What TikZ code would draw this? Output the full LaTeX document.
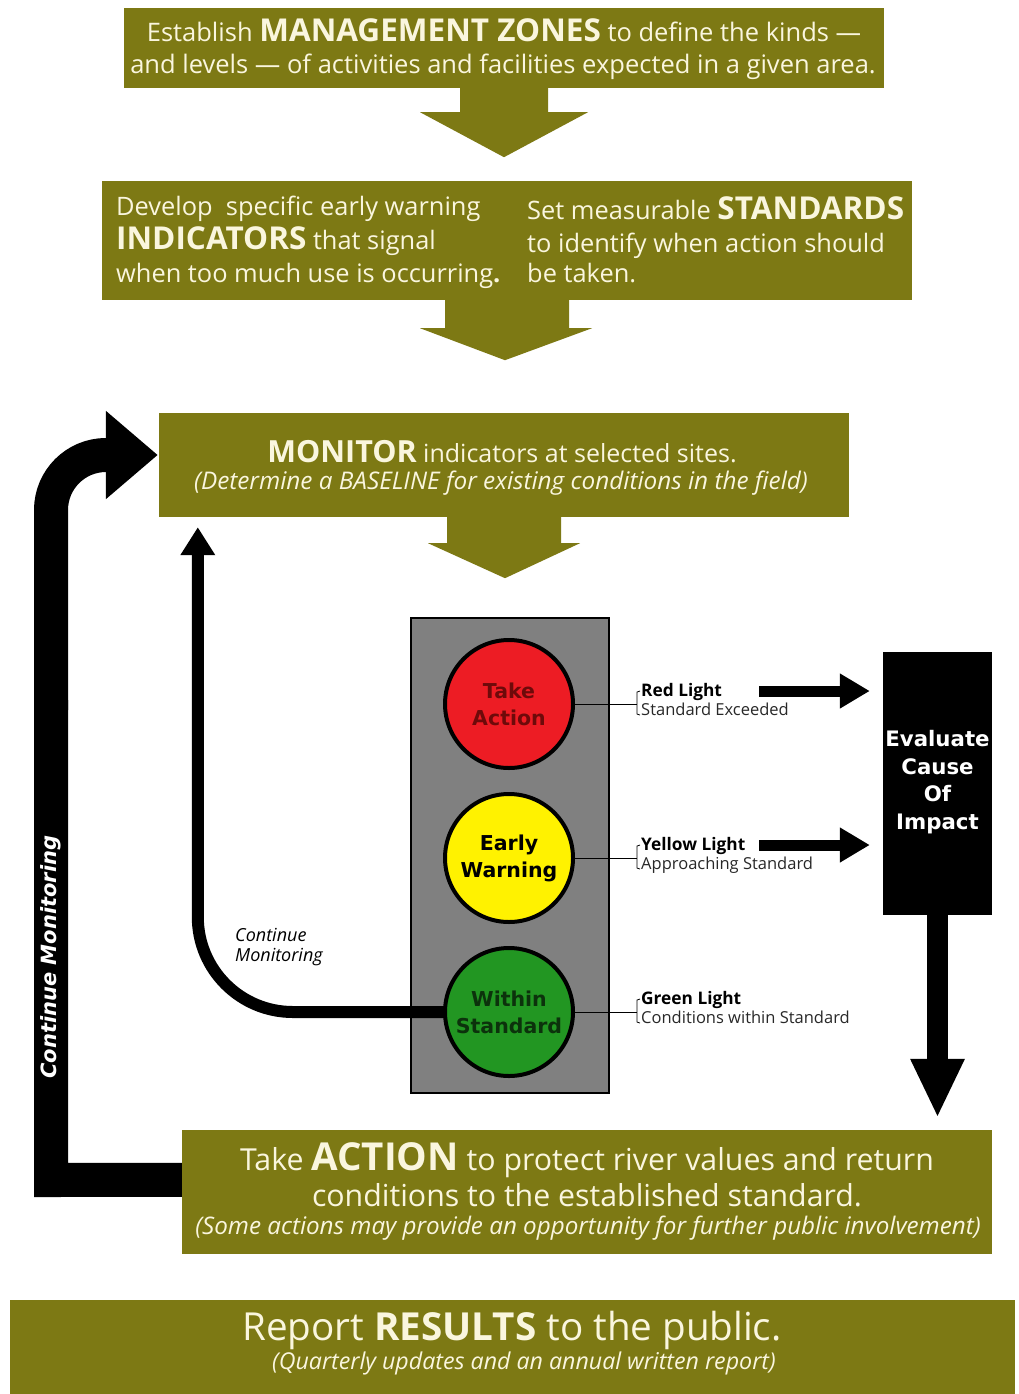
\documentclass[tikz,border=0pt]{standalone}
\usepackage{fontspec}
\setmainfont{Open Sans}
\newfontfamily\vfont{DejaVu Sans}
\usetikzlibrary{arrows.meta,calc}
\definecolor{olivebg}{RGB}{125,121,20}
\definecolor{cream}{RGB}{250,246,222}
\definecolor{lred}{RGB}{237,28,36}
\definecolor{lyellow}{RGB}{255,242,0}
\definecolor{lgreen}{RGB}{34,150,34}
\definecolor{housing}{RGB}{128,128,128}
\definecolor{dred}{RGB}{110,10,10}
\definecolor{dgreen}{RGB}{12,50,12}
\definecolor{lbltext}{RGB}{40,40,40}
\newcommand{\fs}[1]{\fontsize{#1}{#1}\selectfont}
\newcommand{\fss}[2]{\fontsize{#1}{#2}\selectfont}
\newcommand{\bigb}[2]{{\fs{#1}\textbf{#2}}}
\begin{document}
\begin{tikzpicture}[x=1pt,y=-1pt,
  obox/.style={fill=olivebg, draw=none, inner sep=0},
  txt/.style={text=cream, inner sep=0, anchor=base},
  txtw/.style={text=cream, inner sep=0, anchor=base west},
  lamp/.style={circle, draw=black, line width=4, minimum size=128, inner sep=0, align=center, font=\vfont\bfseries\fss{20.5}{27}},
  lbl/.style={inner sep=0, anchor=base west, text=lbltext, font=\fs{16.5}},
  lblb/.style={inner sep=0, anchor=base west, text=black, font=\bfseries\fs{17.3}},
  fatarrow/.style={line width=11, -{Triangle[width=33,length=30]}},
]
\useasboundingbox (0,0) rectangle (1019,1394);
\fill[white] (0,0) rectangle (1019,1394);

% boxes
\node[obox, minimum width=760, minimum height=80] (b1) at (504,48) {};
\node[obox, minimum width=810, minimum height=119] (b2) at (507,240.5) {};
\node[obox, minimum width=690, minimum height=104] (mon) at (504,465) {};
\node[obox, minimum width=810, minimum height=124] (act) at (587,1192) {};
\node[obox, minimum width=1005, minimum height=94] (rep) at (512.5,1347) {};

% olive arrows
\fill[olivebg] ($(b1.south)+(-44,-1)$) -- ++(88,0) -- ++(0,25) -- ++(40,0)
  -- ($(b1.south)+(0,69)$) -- ($(b1.south)+(-84,24)$) -- ++(40,0) -- cycle;
\fill[olivebg] ($(b2.south)+(-62,-1)$) -- ++(124,0) -- ++(0,29) -- ++(23,0)
  -- ($(b2.south)+(-2,60)$) -- ($(b2.south)+(-87,28)$) -- ++(25,0) -- cycle;
\fill[olivebg] ($(mon.south)+(-57,-1)$) -- ++(114,0) -- ++(0,27) -- ++(19,0)
  -- ($(mon.south)+(1,61)$) -- ($(mon.south)+(-76,26)$) -- ++(19,0) -- cycle;

% box texts
\begin{scope}[every node/.append style={font=\fs{25.5}}]
\node[txt] (t1a) at (504,42) {Establish \bigb{31.5}{MANAGEMENT ZONES} to define the kinds —};
\node[txt] (t1b) at (503,74) {and levels — of activities and facilities expected in a given area.};
\end{scope}
\begin{scope}[every node/.append style={font=\fs{25.4}}]
\node[txtw] (t2a) at (116,215) {Develop\ \ specific early warning};
\node[txtw] (t2b) at (116,249) {\bigb{31.5}{INDICATORS} that signal};
\node[txtw] (t2c) at (116,282) {when too much use is occurring\textbf{.}};
\node[txtw] (t2d) at (527,219) {Set measurable \bigb{31.5}{STANDARDS}};
\node[txtw] (t2e) at (527,252) {to identify when action should};
\node[txtw] (t2f) at (527,282) {be taken.};
\end{scope}
\node[txt, font=\fs{25}] (t3a) at (502,462) {\bigb{30.5}{MONITOR} indicators at selected sites.};
\node[txt, font=\itshape\fs{24.3}] (t3b) at (501,489) {(Determine a BASELINE for existing conditions in the field)};
\node[txt, font=\fs{30.3}] (t4a) at (587,1170) {Take \bigb{38.5}{ACTION} to protect river values and return};
\node[txt, font=\fs{30.3}] (t4b) at (587,1206) {conditions to the established standard.};
\node[txt, font=\itshape\fs{24.2}] (t4c) at (588,1234) {(Some actions may provide an opportunity for further public involvement)};
\node[txt, font=\fs{38.6}] (t5a) at (512,1340) {Report \textbf{RESULTS} to the public.};
\node[txt, font=\itshape\fs{23.2}] (t5b) at (524,1369) {(Quarterly updates and an annual written report)};

% traffic light housing
\node[draw=black, line width=2, fill=housing, minimum width=198, minimum height=475, inner sep=0] (house) at (510,855.5) {};

% continue monitoring thin arrow (drawn over housing)
\coordinate (cmTip) at ($(mon.south west)+(39,10)$);
\coordinate (cmStart) at (460,1012);
\draw[line width=12, rounded corners=95, -{Triangle[width=33,length=28]}]
  (cmStart) -- (cmTip |- cmStart) -- (cmTip);

% lamps
\node[lamp, fill=lred, text=dred] (red) at (509,704) {Take\\Action};
\node[lamp, fill=lyellow, text=black] (yel) at (509,858) {Early\\Warning};
\node[lamp, fill=lgreen, text=dgreen] (grn) at (509,1012) {Within\\Standard};

% leader lines and labels
\foreach \l/\y in {red/704, yel/858, grn/1012}{
  \draw[line width=0.8] (\l.east) -- (637,\y);
  \draw[line width=0.8] (640,\y-13) -- (637,\y-12) -- (637,\y+10) -- (640,\y+11);
}
\node[lblb] (l1a) at (641,696) {Red Light};
\node[lbl] (l1b) at (641,715) {Standard Exceeded};
\node[lblb] (l2a) at (641,850) {Yellow Light};
\node[lbl] (l2b) at (641,869) {Approaching Standard};
\node[lblb] (l3a) at (641,1004) {Green Light};
\node[lbl] (l3b) at (641,1023) {Conditions within Standard};

% evaluate box
\node[fill=black, minimum width=109, minimum height=263, inner sep=0] (eval) at (937.5,783.5) {};
\node[text=white, align=center, inner sep=0, font=\vfont\bfseries\fss{21.3}{27.7}] (evt) at (937.5,782) {Evaluate\\Cause\\Of\\Impact};

\coordinate (ra) at (759,691);
\coordinate (ya) at (759,845);
\draw[fatarrow] (ra) -- ($(eval.west|-ra)+(-13,0)$);
\draw[fatarrow] (ya) -- ($(eval.west|-ya)+(-13,0)$);
\draw[line width=21, -{Triangle[width=50,length=59]}] (eval.south) -- ($(act.north -| eval.south)+(0,-12)$);

% continue monitoring labels
\node[inner sep=0, anchor=base west, align=left, font=\itshape\fss{18}{20}] (cm) at (235,961) {Continue\\Monitoring};

% big black loop arrow
\coordinate (bl) at ($(act.north west)+(0,50)$);
\coordinate (bigTip) at ($(mon.west)+(-1,-10)$);
\draw[line width=34, line join=miter] (bl) -- (51,1180) -- (51,700);
\draw[line width=34, rounded corners=55, -{Triangle[width=85,length=52]}] (51,710) -- (51,455) -- (bigTip);
\node[rotate=90, text=white, inner sep=0, font=\vfont\bfseries\itshape\fs{21}] (vt) at (51,957) {Continue Monitoring};
\end{tikzpicture}
\end{document}
